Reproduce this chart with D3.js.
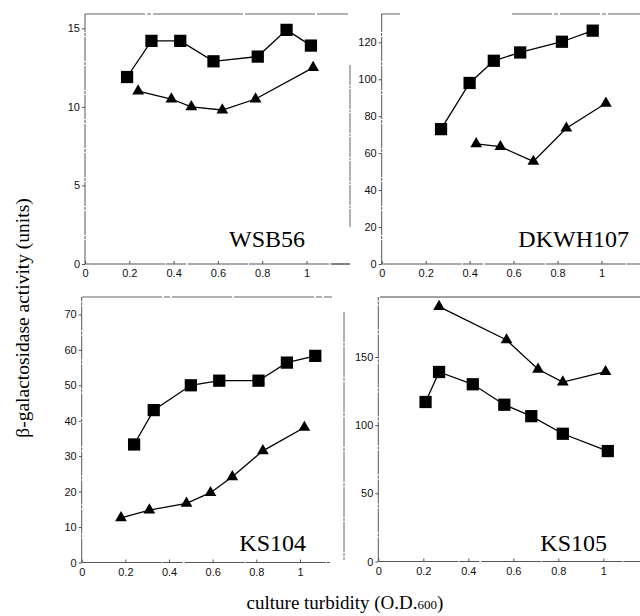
<!DOCTYPE html>
<html>
<head>
<meta charset="utf-8">
<script src="https://cdn.jsdelivr.net/npm/d3@7"></script>
<style>
html,body{margin:0;padding:0;background:#fff;}
svg{display:block;}
</style>
</head>
<body>
<svg id="chart" width="640" height="616"></svg>
<script>
// ---------- data ----------
const xTicks = [0, 0.2, 0.4, 0.6, 0.8, 1];
const xTickLabels = ["0", "0.2", "0.4", "0.6", "0.8", "1"];

const panelNames = ["WSB56", "DKWH107", "KS104", "KS105"];

const wsbSquareX = [0.19, 0.30, 0.43, 0.58, 0.78, 0.91, 1.02];
const wsbSquareY = [11.9, 14.2, 14.2, 12.9, 13.2, 14.9, 13.9];
const wsbTriX = [0.24, 0.39, 0.48, 0.62, 0.77, 1.03];
const wsbTriY = [11.0, 10.5, 10.0, 9.8, 10.5, 12.5];
const wsbYTicks = [0, 5, 10, 15];

const dkSquareX = [0.27, 0.40, 0.51, 0.63, 0.82, 0.96];
const dkSquareY = [73, 98, 110, 114.5, 120.3, 126.3];
const dkTriX = [0.43, 0.54, 0.69, 0.84, 1.02];
const dkTriY = [65, 63.5, 55.5, 73.5, 87];
const dkYTicks = [0, 20, 40, 60, 80, 100, 120];

const ks104SquareX = [0.24, 0.33, 0.50, 0.63, 0.81, 0.94, 1.07];
const ks104SquareY = [33.3, 43, 50, 51.3, 51.3, 56.4, 58.3];
const ks104TriX = [0.18, 0.31, 0.48, 0.59, 0.69, 0.83, 1.02];
const ks104TriY = [12.6, 14.8, 16.7, 19.7, 24.2, 31.5, 38.1];
const ks104YTicks = [0, 10, 20, 30, 40, 50, 60, 70];

const ks105SquareX = [0.21, 0.27, 0.42, 0.56, 0.68, 0.82, 1.02];
const ks105SquareY = [117, 139, 130, 115, 106.6, 93.7, 81];
const ks105TriX = [0.27, 0.57, 0.71, 0.82, 1.01];
const ks105TriY = [187, 162.5, 141, 131.6, 139.2];
const ks105YTicks = [0, 50, 100, 150];

const yAxisTitle = "β-galactosidase activity (units)";
const xAxisTitle = "culture turbidity (O.D.";
const xAxisSub = "600";

// ---------- layout ----------
const svg = d3.select("#chart");
const panels = [
  {name: panelNames[0], sqX: wsbSquareX, sqY: wsbSquareY, trX: wsbTriX, trY: wsbTriY, yTicks: wsbYTicks,
   x0: 85, x1: 306.5, xEnd: 350, y0: 264, yTop: 15, yTopPx: 28.3, frameTop: 14, labelX: 305, labelY: 247},
  {name: panelNames[1], sqX: dkSquareX, sqY: dkSquareY, trX: dkTriX, trY: dkTriY, yTicks: dkYTicks,
   x0: 381.7, x1: 601.5, xEnd: 640, y0: 264, yTop: 120, yTopPx: 42.3, frameTop: 14, labelX: 629, labelY: 247},
  {name: panelNames[2], sqX: ks104SquareX, sqY: ks104SquareY, trX: ks104TriX, trY: ks104TriY, yTicks: ks104YTicks,
   x0: 81.7, x1: 300, xEnd: 330, y0: 562.5, yTop: 70, yTopPx: 314.4, frameTop: 297, labelX: 306, labelY: 551},
  {name: panelNames[3], sqX: ks105SquareX, sqY: ks105SquareY, trX: ks105TriX, trY: ks105TriY, yTicks: ks105YTicks,
   x0: 378.3, x1: 603.3, xEnd: 640, y0: 561.5, yTop: 150, yTopPx: 357, frameTop: 297, labelX: 607, labelY: 551}
];

const axisColor = "#555";
const frameColor = "#666";

// frame pieces (scan-like borders)
const frames = svg.append("g").attr("fill", "none").attr("stroke", frameColor).attr("stroke-width", 1);
frames.append("line").attr("x1", 85).attr("x2", 348).attr("y1", 14).attr("y2", 14).attr("stroke-dasharray", "60,2,4,2,90,2,70,2");
frames.append("line").attr("x1", 350).attr("x2", 350).attr("y1", 65).attr("y2", 227).attr("stroke-dasharray", "20,1,2,1");
frames.append("line").attr("x1", 381).attr("x2", 400).attr("y1", 14).attr("y2", 14);
frames.append("line").attr("x1", 512).attr("x2", 640).attr("y1", 14).attr("y2", 14).attr("stroke-dasharray", "40,2,4,2");
frames.append("line").attr("x1", 82).attr("x2", 332).attr("y1", 297).attr("y2", 297).attr("stroke-dasharray", "80,2,6,2,60,2");
frames.append("line").attr("x1", 344).attr("x2", 344).attr("y1", 312).attr("y2", 560).attr("stroke-dasharray", "30,1,3,1");
frames.append("line").attr("x1", 380).attr("x2", 640).attr("y1", 297).attr("y2", 297).attr("stroke", "#444");
frames.append("line").attr("x1", 332).attr("x2", 350).attr("y1", 264).attr("y2", 264).attr("stroke", "#555");

panels.forEach(p => {
  const x = d3.scaleLinear().domain([0, 1]).range([p.x0, p.x1]);
  const y = d3.scaleLinear().domain([0, p.yTop]).range([p.y0, p.yTopPx]);
  const g = svg.append("g");

  // axis lines
  g.append("line").attr("x1", p.x0).attr("x2", p.xEnd).attr("y1", p.y0).attr("y2", p.y0)
    .attr("stroke", axisColor).attr("stroke-width", 1.2).attr("stroke-dasharray", "80,1,20,2,60,1");
  g.append("line").attr("x1", p.x0).attr("x2", p.x0).attr("y1", p.y0).attr("y2", p.frameTop)
    .attr("stroke", axisColor).attr("stroke-width", 1).attr("stroke-dasharray", "24,1,3,1");

  // y axis ticks
  const ya = d3.axisLeft(y).tickValues(p.yTicks).tickSize(3).tickPadding(2).tickFormat(d3.format("d"));
  const yg = g.append("g").attr("transform", `translate(${p.x0},0)`).call(ya);
  yg.select(".domain").remove();
  yg.selectAll("line").attr("stroke", axisColor);
  yg.selectAll("text").attr("font-family", "Liberation Sans, Arial, sans-serif").attr("font-size", 11).attr("fill", "#111");

  // x axis ticks (inward)
  const xa = d3.axisTop(x).tickValues(xTicks).tickSize(3).tickFormat((d, i) => xTickLabels[i]);
  const xg = g.append("g").attr("transform", `translate(0,${p.y0})`).call(xa);
  xg.select(".domain").remove();
  xg.selectAll("line").attr("stroke", axisColor);
  xg.selectAll("text").attr("y", 13).attr("dy", 0).attr("font-family", "Liberation Sans, Arial, sans-serif")
    .attr("font-size", 11).attr("fill", "#111");

  // lines
  const line = d3.line().x(d => x(d[0])).y(d => y(d[1]));
  const sq = p.sqX.map((v, i) => [v, p.sqY[i]]);
  const tr = p.trX.map((v, i) => [v, p.trY[i]]);
  g.append("path").datum(sq).attr("d", line).attr("fill", "none").attr("stroke", "#000").attr("stroke-width", 1.3);
  g.append("path").datum(tr).attr("d", line).attr("fill", "none").attr("stroke", "#000").attr("stroke-width", 1.3);

  const sqSym = d3.symbol().type(d3.symbolSquare).size(150);
  const trSym = d3.symbol().type(d3.symbolTriangle).size(60);
  g.selectAll(".sq").data(sq).join("path").attr("class", "sq")
    .attr("d", sqSym).attr("transform", d => `translate(${x(d[0])},${y(d[1])})`).attr("fill", "#000");
  g.selectAll(".tr").data(tr).join("path").attr("class", "tr")
    .attr("d", trSym).attr("transform", d => `translate(${x(d[0])},${y(d[1])})`).attr("fill", "#000");

  // panel label
  g.append("text").attr("x", p.labelX).attr("y", p.labelY).attr("text-anchor", "end")
    .attr("font-family", "Liberation Serif, Times New Roman, serif").attr("font-size", 24).attr("fill", "#000")
    .text(p.name);
});

// axis titles
svg.append("text").attr("transform", "translate(29,318) rotate(-90)").attr("text-anchor", "middle")
  .attr("font-family", "Liberation Serif, Times New Roman, serif").attr("font-size", 19.5).attr("fill", "#000")
  .text(yAxisTitle);

const xt = svg.append("text").attr("x", 345).attr("y", 609).attr("text-anchor", "middle")
  .attr("font-family", "Liberation Serif, Times New Roman, serif").attr("font-size", 19).attr("fill", "#000");
xt.append("tspan").text(xAxisTitle);
xt.append("tspan").attr("font-size", 13).text(xAxisSub);
xt.append("tspan").text(")");
</script>
</body>
</html>
